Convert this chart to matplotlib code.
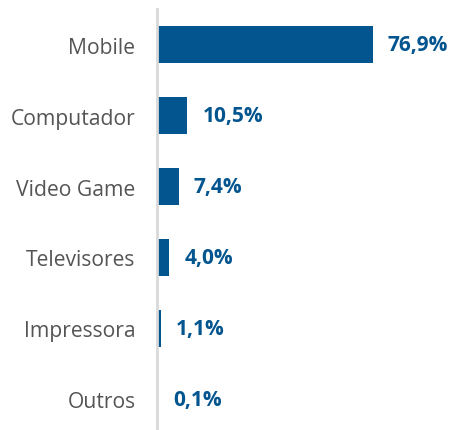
import matplotlib
matplotlib.use("Agg")
import matplotlib.pyplot as plt

categories = ["Mobile", "Computador", "Video Game", "Televisores", "Impressora", "Outros"]
values = [76.9, 10.5, 7.4, 4.0, 1.1, 0.1]
value_labels = ["76,9%", "10,5%", "7,4%", "4,0%", "1,1%", "0,1%"]

bar_color = "#02558F"
text_color = "#555555"

plt.rcParams["font.family"] = ["Open Sans", "DejaVu Sans"]

fig = plt.figure(figsize=(4.5, 4.31), dpi=100)
W, H = 450, 431
x0, x1 = 158, 450
y_top, y_bot = 10, 431
ax = fig.add_axes([x0 / W, 1 - y_bot / H, (x1 - x0) / W, (y_bot - y_top) / H])

px_per_unit = 215 / 76.9
ax.set_xlim(0, (x1 - x0) / px_per_unit)
band = 71.0
ax.set_ylim(-0.5 + (y_bot - y_top) / band, -0.5)

ypos = list(range(len(categories)))
ax.barh(ypos, values, height=0.51, color=bar_color)

offset = 15 / px_per_unit
for y, v, lab in zip(ypos, values, value_labels):
    ax.text(v + offset, y, lab, va="center", ha="left", fontsize=15,
            fontweight="bold", color=bar_color)

ax.set_yticks(ypos)
ax.set_yticklabels(categories)
ax.tick_params(axis="y", length=0, pad=15.2, labelsize=15.2, labelcolor=text_color)
ax.set_xticks([])

for s in ["top", "right", "bottom"]:
    ax.spines[s].set_visible(False)
ax.spines["left"].set_color("#d9d9d9")
ax.spines["left"].set_linewidth(2)
ax.spines["left"].set_position(("outward", 1))

fig.savefig("out.png", dpi=100)
